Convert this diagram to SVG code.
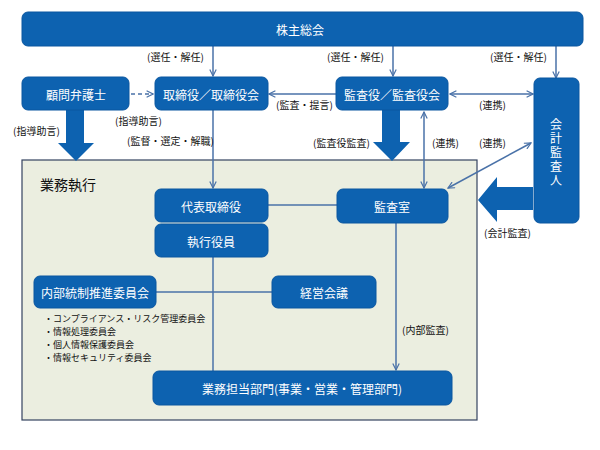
<svg xmlns="http://www.w3.org/2000/svg" width="600" height="450" viewBox="0 0 600 450">
<style>
.node{fill:#0d62b0;stroke:#0a56a0;stroke-width:1}
.nt{fill:#fff;font-family:"Noto Sans CJK JP","Noto Sans CJK SC",sans-serif;font-size:12px;text-anchor:middle;dominant-baseline:central}
.lb{fill:#111;font-family:"Noto Sans CJK JP","Noto Sans CJK SC",sans-serif;font-size:10px;dominant-baseline:central}
.ln{fill:none;stroke:#4a72a8;stroke-width:1.5}
.blk{fill:#0d62b0}
</style>
<defs>
<marker id="ah" viewBox="0 0 10 10" refX="9" refY="5" markerWidth="8" markerHeight="8" orient="auto-start-reverse" markerUnits="userSpaceOnUse">
<path d="M1,1 L9,5 L1,9" fill="none" stroke="#4a72a8" stroke-width="1.5"/>
</marker>
</defs>
<rect id="frame" x="22" y="160" width="455" height="260" fill="#ebeee0" stroke="#34435f" stroke-width="1.2"/>
<text class="lb" x="40" y="184" style="font-size:14px">業務執行</text>
<g id="connectors">
<line class="ln" x1="213" y1="46" x2="213" y2="76" marker-end="url(#ah)"/>
<line class="ln" x1="393" y1="46" x2="393" y2="76" marker-end="url(#ah)"/>
<line class="ln" x1="556" y1="46" x2="556" y2="78" marker-end="url(#ah)"/>
<line class="ln" x1="131" y1="94" x2="153" y2="94" stroke-dasharray="4,3" marker-end="url(#ah)"/>
<line class="ln" x1="336" y1="94" x2="269" y2="94" marker-end="url(#ah)"/>
<line class="ln" x1="450" y1="94" x2="533" y2="94" marker-start="url(#ah)" marker-end="url(#ah)"/>
<line class="ln" x1="213" y1="110" x2="213" y2="188" marker-end="url(#ah)"/>
<line class="ln" x1="424" y1="112" x2="424" y2="188" marker-start="url(#ah)" marker-end="url(#ah)"/>
<line class="ln" x1="448" y1="188" x2="531" y2="143" marker-start="url(#ah)" marker-end="url(#ah)"/>
<line class="ln" x1="268" y1="205" x2="337" y2="205"/>
<line class="ln" x1="213" y1="257" x2="213" y2="371"/>
<line class="ln" x1="156" y1="292" x2="272" y2="292"/>
<line class="ln" x1="396" y1="223" x2="396" y2="370" marker-end="url(#ah)"/>
<polygon class="blk" points="66,110 84,110 84,143 94,143 76,161 58,143 66,143"/>
<polygon class="blk" points="382,110 400,110 400,142 410,142 392,161 373,142 382,142"/>
<polygon class="blk" points="533,187 497,187 497,177 478,200 497,222 497,210 533,210"/>
</g>
<g id="labels">
<text class="lb" x="147" y="56">(選任・解任)</text>
<text class="lb" x="327" y="56">(選任・解任)</text>
<text class="lb" x="490" y="56">(選任・解任)</text>
<text class="lb" x="276" y="104">(監査・提言)</text>
<text class="lb" x="479" y="104">(連携)</text>
<text class="lb" x="115" y="120">(指導助言)</text>
<text class="lb" x="13" y="130">(指導助言)</text>
<text class="lb" x="127" y="140">(監督・選定・解職)</text>
<text class="lb" x="313" y="142">(監査役監査)</text>
<text class="lb" x="432" y="142">(連携)</text>
<text class="lb" x="479" y="142">(連携)</text>
<text class="lb" x="484" y="232">(会計監査)</text>
<text class="lb" x="402" y="329">(内部監査)</text>
</g>
<g id="n-kabunushi"><rect class="node" x="22" y="12" width="561" height="34" rx="6"/><text class="nt" x="300" y="29">株主総会</text></g>
<g id="n-komon"><rect class="node" x="22" y="77" width="107" height="33" rx="6"/><text class="nt" x="76" y="94">顧問弁護士</text></g>
<g id="n-torishimari"><rect class="node" x="155" y="77" width="113" height="33" rx="6"/><text class="nt" x="211" y="94">取締役／取締役会</text></g>
<g id="n-kansayaku"><rect class="node" x="336" y="77" width="112" height="33" rx="6"/><text class="nt" x="392" y="94">監査役／監査役会</text></g>
<g id="n-kaikei"><rect class="node" x="534" y="78" width="45" height="145" rx="6"/>
<text x="556" y="118" style="fill:#fff;font-family:'Noto Sans CJK JP','Noto Sans CJK SC',sans-serif;font-size:12px;writing-mode:vertical-rl;letter-spacing:2px">会計監査人</text></g>
<g id="n-daihyo"><rect class="node" x="155" y="189" width="113" height="33" rx="6"/><text class="nt" x="211" y="206">代表取締役</text></g>
<g id="n-shikko"><rect class="node" x="155" y="224" width="113" height="33" rx="6"/><text class="nt" x="211" y="241">執行役員</text></g>
<g id="n-kansashitsu"><rect class="node" x="337" y="189" width="111" height="34" rx="6"/><text class="nt" x="392" y="206">監査室</text></g>
<g id="n-naibu"><rect class="node" x="34" y="276" width="122" height="32" rx="6"/><text class="nt" x="95" y="292">内部統制推進委員会</text></g>
<g id="n-keiei"><rect class="node" x="272" y="276" width="104" height="32" rx="6"/><text class="nt" x="324" y="292">経営会議</text></g>
<g id="n-gyomu"><rect class="node" x="153" y="371" width="299" height="34" rx="6"/><text class="nt" x="302" y="388">業務担当部門(事業・営業・管理部門)</text></g>
<g id="list">
<text class="lb" x="44" y="318" style="font-size:9px">・コンプライアンス・リスク管理委員会</text>
<text class="lb" x="44" y="331" style="font-size:9px">・情報処理委員会</text>
<text class="lb" x="44" y="344" style="font-size:9px">・個人情報保護委員会</text>
<text class="lb" x="44" y="357" style="font-size:9px">・情報セキュリティ委員会</text>
</g>
</svg>
